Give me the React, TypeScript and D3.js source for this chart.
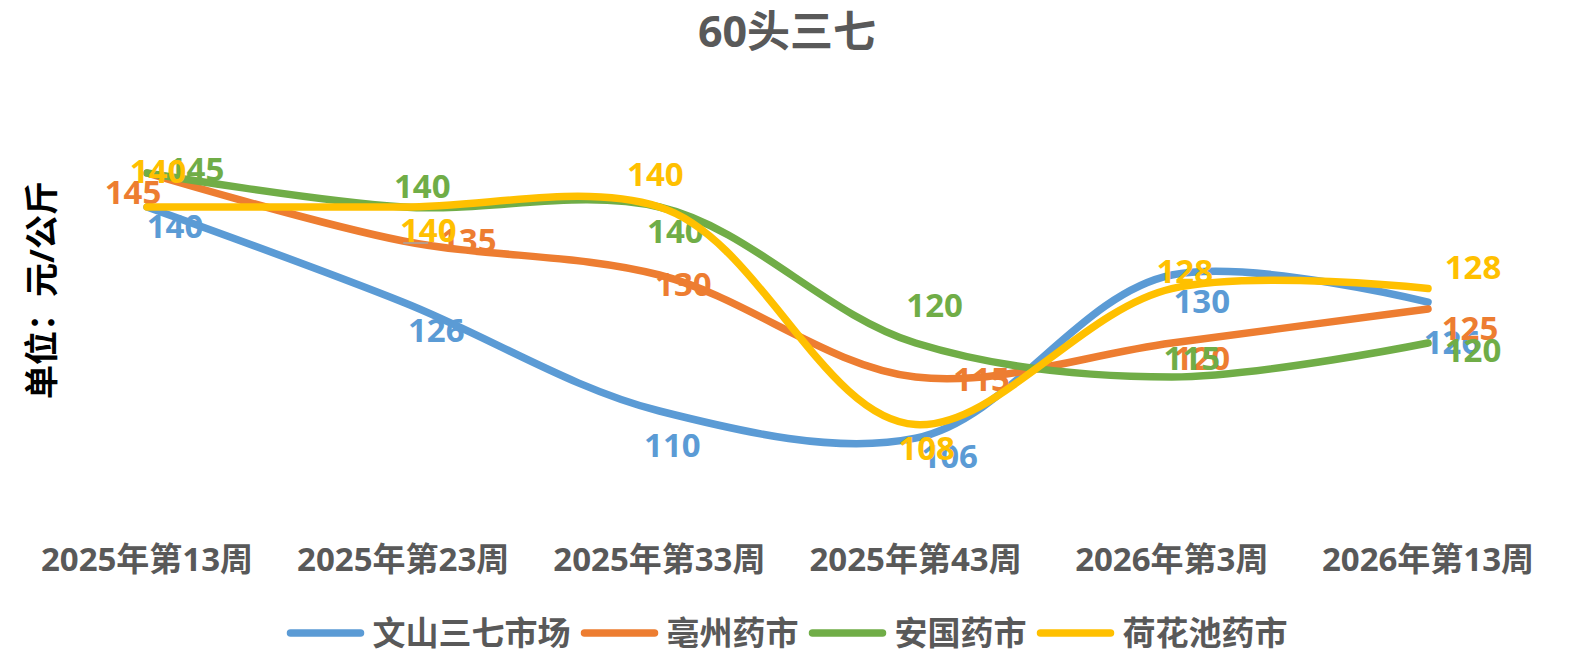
import { useEffect, useRef } from "react";
import * as d3 from "d3";

const categories = [
  "2025年第13周",
  "2025年第23周",
  "2025年第33周",
  "2025年第43周",
  "2026年第3周",
  "2026年第13周",
];
const seriesNames = ["文山三七市场", "亳州药市", "安国药市", "荷花池药市"];
const wenshan = [140, 126, 110, 106, 130, 126];
const bozhou = [145, 135, 130, 115, 120, 125];
const anguo = [145, 140, 140, 120, 115, 120];
const hehuachi = [140, 140, 140, 108, 128, 128];

const colors = ["#5B9BD5", "#ED7D31", "#70AD47", "#FFC000"];

// manual label placement (dx, dy from the point), like the hand-dragged labels in the original
const labelNudge: [number, number][][] = [
  [[28, 19], [33, 28], [13, 34], [34, 18], [30, 26], [24, 40]],
  [[-14, 19], [65, -1], [24, 9], [66, 2], [30, 15], [42, 19]],
  [[49, -4], [19, -21], [16, 24], [19, -38], [20, -19], [45, 7]],
  [[11, -36], [25, 23], [-4, -33], [11, 24], [13, -17], [45, -21]],
];

const FONT = "'Open Sans', 'Noto Sans CJK SC', sans-serif";
const GREY = "#595959";

export default function App() {
  const svgRef = useRef<SVGSVGElement | null>(null);
  const width = 1582;
  const height = 660;

  useEffect(() => {
    if (!svgRef.current) return;
    const svg = d3.select(svgRef.current);
    svg.selectAll("*").remove();

    const x = d3.scalePoint<string>().domain(categories).range([147, 1428]);
    const y = d3.scaleLinear().domain([100, 150]).range([479, 139]);

    // title
    svg
      .append("text")
      .attr("x", 787)
      .attr("y", 47)
      .attr("text-anchor", "middle")
      .style("font-family", FONT)
      .style("font-weight", "700")
      .style("font-size", "43px")
      .style("fill", GREY)
      .text("60头三七");

    // y axis title
    svg
      .append("text")
      .attr("transform", "translate(42,290) rotate(-90)")
      .attr("dy", "0.35em")
      .attr("text-anchor", "middle")
      .style("font-family", FONT)
      .style("font-weight", "700")
      .style("font-size", "34px")
      .style("fill", "#000")
      .text("单位：元/公斤");

    // x axis labels
    svg
      .append("g")
      .selectAll("text")
      .data(categories)
      .join("text")
      .attr("x", (d) => x(d)!)
      .attr("y", 559)
      .attr("dy", "0.35em")
      .attr("text-anchor", "middle")
      .style("font-family", FONT)
      .style("font-weight", "700")
      .style("font-size", "33px")
      .style("fill", GREY)
      .text((d) => d);

    const all = [wenshan, bozhou, anguo, hehuachi];
    const line = d3
      .line<number>()
      .x((_, i) => x(categories[i])!)
      .y((d) => y(d))
      .curve(d3.curveCatmullRom.alpha(1));

    all.forEach((vals, s) => {
      const g = svg.append("g");
      g.append("path")
        .attr("d", line(vals))
        .attr("fill", "none")
        .attr("stroke", colors[s])
        .attr("stroke-width", 7.5)
        .attr("stroke-linecap", "round")
        .attr("stroke-linejoin", "round");

      vals.forEach((v, i) => {
        const px = x(categories[i])!;
        const py = y(v);
        const [dx, dy] = labelNudge[s][i];
        if (s === 3 && i === 1) {
          g.append("line")
            .attr("x1", px)
            .attr("x2", px + 25)
            .attr("y1", py + dy + 13)
            .attr("y2", py + dy + 13)
            .attr("stroke", "#A6A6A6")
            .attr("stroke-width", 1.5);
        }
        g.append("text")
          .attr("x", px + dx)
          .attr("y", py + dy)
          .attr("dy", "0.35em")
          .attr("text-anchor", "middle")
          .style("font-family", FONT)
          .style("font-weight", "700")
          .style("font-size", "33px")
          .style("fill", colors[s])
          .text(v);
      });
    });

    // legend
    const lineLen = 78;
    const gapText = 8;
    const gapItem = 10;
    const lg = svg.append("g");
    const items = seriesNames.map((name, s) => {
      const t = lg
        .append("text")
        .attr("y", 633)
        .attr("dy", "0.35em")
        .style("font-family", FONT)
        .style("font-weight", "700")
        .style("font-size", "33px")
        .style("fill", GREY)
        .text(name);
      const w = (t.node() as SVGTextElement).getComputedTextLength();
      return { t, w, s };
    });
    const total =
      d3.sum(items, (d) => lineLen + gapText + d.w) + gapItem * (items.length - 1);
    let cx = 787 - total / 2;
    items.forEach((it) => {
      lg.append("line")
        .attr("x1", cx + 4)
        .attr("x2", cx + lineLen - 4)
        .attr("y1", 633)
        .attr("y2", 633)
        .attr("stroke", colors[it.s])
        .attr("stroke-width", 7.5)
        .attr("stroke-linecap", "round");
      it.t.attr("x", cx + lineLen + gapText);
      cx += lineLen + gapText + it.w + gapItem;
    });
  }, []);

  return (
    <svg
      ref={svgRef}
      width={width}
      height={height}
      style={{ position: "absolute", left: 0, top: 0, background: "#fff" }}
    />
  );
}
